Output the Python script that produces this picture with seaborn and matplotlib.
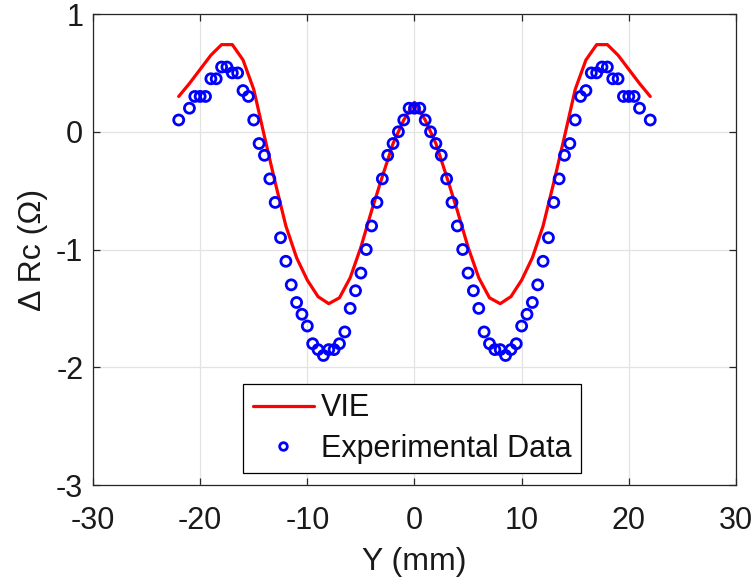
import matplotlib
matplotlib.use("Agg")
import matplotlib.pyplot as plt
import seaborn as sns
import pandas as pd
from matplotlib.lines import Line2D

# VIE simulation (1 mm spacing)
vie_x = [-22, -21, -20, -19, -18, -17, -16, -15, -14, -13, -12, -11, -10, -9, -8, -7, -6, -5, -4, -3, -2, -1,
         0, 1, 2, 3, 4, 5, 6, 7, 8, 9, 10, 11, 12, 13, 14, 15, 16, 17, 18, 19, 20, 21, 22]
vie_y = [0.30, 0.41, 0.53, 0.65, 0.74, 0.74, 0.61, 0.36, -0.04, -0.43, -0.80, -1.07, -1.26, -1.40, -1.46, -1.41,
         -1.24, -0.98, -0.67, -0.38, -0.10, 0.10,
         0.25, 0.10, -0.10, -0.38, -0.67, -0.98, -1.24, -1.41, -1.46, -1.40, -1.26, -1.07, -0.80, -0.43, -0.04,
         0.36, 0.61, 0.74, 0.74, 0.65, 0.53, 0.41, 0.30]

# Experimental data
exp_x = [-22, -21, -20.5, -20, -19.5, -19, -18.5, -18, -17.5, -17, -16.5, -16, -15.5, -15, -14.5, -14, -13.5,
         -13, -12.5, -12, -11.5, -11, -10.5, -10, -9.5, -9, -8.5, -8, -7.5, -7, -6.5, -6, -5.5, -5, -4.5, -4,
         -3.5, -3, -2.5, -2, -1.5, -1, -0.5, 0,
         0.5, 1, 1.5, 2, 2.5, 3, 3.5, 4, 4.5, 5, 5.5, 6, 6.5, 7, 7.5, 8, 8.5, 9, 9.5, 10, 10.5, 11, 11.5, 12,
         12.5, 13, 13.5, 14, 14.5, 15, 15.5, 16, 16.5, 17, 17.5, 18, 18.5, 19, 19.5, 20, 20.5, 21, 22]
exp_y = [0.10, 0.20, 0.30, 0.30, 0.30, 0.45, 0.45, 0.55, 0.55, 0.50, 0.50, 0.35, 0.30, 0.10, -0.10, -0.20,
         -0.40, -0.60, -0.90, -1.10, -1.30, -1.45, -1.55, -1.65, -1.80, -1.85, -1.90, -1.85, -1.85, -1.80,
         -1.70, -1.50, -1.35, -1.20, -1.00, -0.80, -0.60, -0.40, -0.20, -0.10, 0.00, 0.10, 0.20, 0.20,
         0.20, 0.10, 0.00, -0.10, -0.20, -0.40, -0.60, -0.80, -1.00, -1.20, -1.35, -1.50, -1.70, -1.80,
         -1.85, -1.85, -1.90, -1.85, -1.80, -1.65, -1.55, -1.45, -1.30, -1.10, -0.90, -0.60, -0.40, -0.20,
         -0.10, 0.10, 0.30, 0.35, 0.50, 0.50, 0.55, 0.55, 0.45, 0.45, 0.30, 0.30, 0.30, 0.20, 0.10]

x_ticks = [-30, -20, -10, 0, 10, 20, 30]
y_ticks = [-3, -2, -1, 0, 1]

sns.set_theme(style="whitegrid")
plt.rcParams['font.family'] = ['Liberation Sans', 'DejaVu Sans']

dark = '#262626'
fig = plt.figure(figsize=(7.56, 5.84), dpi=100)
ax = fig.add_axes([0.123, 0.1695, 0.8505, 0.8065])
ax.set_facecolor('white')

vie_df = pd.DataFrame({'x': vie_x, 'y': vie_y})
exp_df = pd.DataFrame({'x': exp_x, 'y': exp_y})

sns.lineplot(data=vie_df, x='x', y='y', ax=ax, color='#ff0000', linewidth=2.3, sort=False, zorder=2)
sns.scatterplot(data=exp_df, x='x', y='y', ax=ax, marker='o', s=52, facecolors='none',
                edgecolor='#0000ff', linewidth=2.0, zorder=3)

ax.set_xlim(-30, 30)
ax.set_ylim(-3, 1)
ax.set_xticks(x_ticks)
ax.set_yticks(y_ticks)
ax.set_xticklabels([str(t) for t in x_ticks])
ax.set_yticklabels([str(t) for t in y_ticks])
ax.grid(True, color='#e3e3e3', linewidth=0.9)
for s in ax.spines.values():
    s.set_color(dark)
    s.set_linewidth(0.9)
    s.set_visible(True)
ax.tick_params(axis='both', which='both', direction='in', length=5, width=0.9, color=dark,
               labelsize=22, labelcolor='#1a1a1a', top=True, right=True, bottom=True, left=True)
ax.tick_params(axis='x', pad=15)
ax.tick_params(axis='y', pad=7)
ax.set_xlabel('Y (mm)', fontsize=23, color='#1a1a1a', labelpad=8)
ax.set_ylabel('Δ Rc (Ω)', fontsize=23, color='#1a1a1a', labelpad=6)

handles = [Line2D([], [], color='#ff0000', linewidth=2.3),
           Line2D([], [], color='#0000ff', marker='o', linestyle='none', markersize=5.5,
                  markerfacecolor='none', markeredgewidth=2.0)]
leg = ax.legend(handles, ['VIE', 'Experimental Data'], loc='lower center', bbox_to_anchor=(0.4965, 0.025),
                fontsize=22, frameon=True, fancybox=False, edgecolor='black', framealpha=1,
                handlelength=2.0, handletextpad=0.25, borderpad=0.3, labelspacing=0.35, borderaxespad=0)
leg.get_frame().set_linewidth(0.9)
for t in leg.get_texts():
    t.set_color('#111111')

fig.savefig('out.png', dpi=100)
